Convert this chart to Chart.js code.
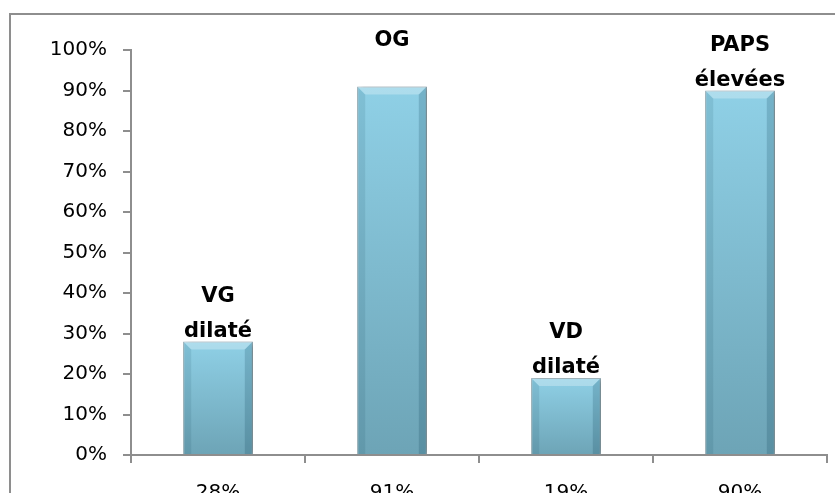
<!DOCTYPE html>
<html>
<head>
<meta charset="utf-8">
<script src="https://cdn.jsdelivr.net/npm/chart.js@4"></script>
<style>
  html, body { margin: 0; padding: 0; background: #fff; overflow: hidden; width: 835px; height: 493px; }
  #frame { position: absolute; left: 9px; top: 13px; width: 840px; height: 520px; border: 2px solid #8e8e8e; box-sizing: border-box; }
  #chart { position: absolute; left: 0; top: 0; }
</style>
</head>
<body>
<div id="frame"><canvas id="chart" width="824" height="500"></canvas></div>
<script>
// values
const categories = ["28%", "91%", "19%", "90%"];
const values = [28, 91, 19, 90];
const barLabels = [["VG", "dilaté"], ["OG", ""], ["VD", "dilaté"], ["PAPS", "élevées"]];
const yTicks = [0, 10, 20, 30, 40, 50, 60, 70, 80, 90, 100];

const FONT = "'DejaVu Sans', sans-serif";

function barFill(c) {
  const chart = c.chart;
  const y = chart.scales.y;
  if (!y || c.dataIndex === undefined) return "#80c0d6";
  const top = y.getPixelForValue(values[c.dataIndex]);
  const base = y.getPixelForValue(0);
  if (!isFinite(top) || !isFinite(base)) return "#80c0d6";
  const g = chart.ctx.createLinearGradient(0, top, 0, base);
  g.addColorStop(0, "#8fd0e6");
  g.addColorStop(1, "#6da4b6");
  return g;
}

// shadow, bevel and the text above the bars
const barDeco = {
  id: "barDeco",
  beforeDatasetsDraw(chart) {
    const ctx = chart.ctx;
    ctx.save();
    ctx.shadowColor = "rgba(0,0,0,0.35)";
    ctx.shadowBlur = 6;
    ctx.shadowOffsetX = 3;
    ctx.shadowOffsetY = 1;
  },
  afterDatasetsDraw(chart) {
    const ctx = chart.ctx;
    ctx.restore();
    const meta = chart.getDatasetMeta(0);
    meta.data.forEach((bar, i) => {
      const l = bar.x - bar.width / 2, r = bar.x + bar.width / 2;
      const t = bar.y, b = bar.base, bev = 8;
      ctx.save();
      ctx.fillStyle = "rgba(255,255,255,0.28)";
      ctx.beginPath();
      ctx.moveTo(l, t); ctx.lineTo(r, t); ctx.lineTo(r - bev, t + bev); ctx.lineTo(l + bev, t + bev);
      ctx.closePath(); ctx.fill();
      ctx.fillStyle = "rgba(0,50,70,0.10)";
      ctx.beginPath();
      ctx.moveTo(l, t); ctx.lineTo(l + bev, t + bev); ctx.lineTo(l + bev, b); ctx.lineTo(l, b);
      ctx.closePath(); ctx.fill();
      ctx.fillStyle = "rgba(0,50,70,0.18)";
      ctx.beginPath();
      ctx.moveTo(r, t); ctx.lineTo(r - bev, t + bev); ctx.lineTo(r - bev, b); ctx.lineTo(r, b);
      ctx.closePath(); ctx.fill();
      ctx.restore();

      // label lines, last one sits just above the bar
      const lines = barLabels[i];
      ctx.save();
      ctx.font = "bold 21px " + FONT;
      ctx.fillStyle = "#000";
      ctx.textAlign = "center";
      ctx.textBaseline = "alphabetic";
      for (let k = 0; k < lines.length; k++) {
        const fromBottom = lines.length - 1 - k;
        ctx.fillText(lines[k], bar.x, t - 5 - fromBottom * 35);
      }
      ctx.restore();
    });
  }
};

new Chart(document.getElementById("chart"), {
  type: "bar",
  data: {
    labels: categories,
    datasets: [{
      data: values,
      backgroundColor: barFill,
      borderColor: "rgba(60,110,130,0.6)",
      borderWidth: 1,
      barPercentage: 0.4,
      categoryPercentage: 1
    }]
  },
  options: {
    responsive: false,
    animation: false,
    events: [],
    layout: { padding: { top: 35, right: 8, bottom: 5, left: 0 } },
    plugins: { legend: { display: false }, tooltip: { enabled: false } },
    scales: {
      x: {
        grid: { drawOnChartArea: false, drawTicks: true, tickLength: 8, color: "#8e8e8e", lineWidth: 2 },
        border: { color: "#8e8e8e", width: 2 },
        ticks: { color: "#000", font: { family: FONT, size: 20 }, padding: 18, maxRotation: 0 },
        afterFit: s => { s.height = 55; }
      },
      y: {
        min: 0,
        max: 100,
        afterBuildTicks: s => { s.ticks = yTicks.map(v => ({ value: v })); },
        grid: { drawOnChartArea: false, drawTicks: true, tickLength: 8, color: "#8e8e8e", lineWidth: 2 },
        border: { color: "#8e8e8e", width: 2 },
        ticks: { color: "#000", font: { family: FONT, size: 20 }, padding: 16, callback: v => v + "%" },
        afterFit: s => { s.width = 120; }
      }
    }
  },
  plugins: [barDeco]
});
</script>
</body>
</html>
